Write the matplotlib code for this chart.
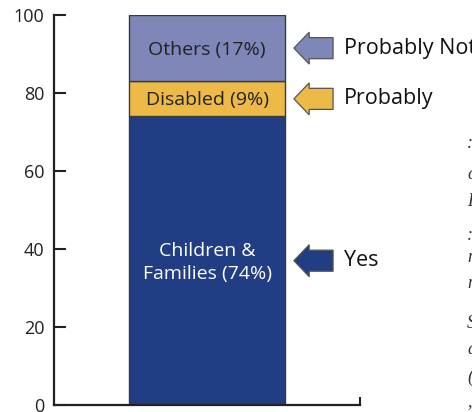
import matplotlib
matplotlib.use("Agg")
import matplotlib.pyplot as plt
from matplotlib.patches import FancyArrow

# Data
segments = ["Children &\nFamilies (74%)", "Disabled (9%)", "Others (17%)"]
values = [74, 9, 17]
answers = ["Yes", "Probably", "Probably Not"]
colors = ["#213E85", "#EDB947", "#7F86B8"]
text_colors = ["white", "#222222", "#222222"]
yticks = [0, 20, 40, 60, 80, 100]
side_fragments = [":", "c", "F", ":", "n", "n", "S", "a", "(", ","]
side_frag_y = [143, 175, 202, 235, 258, 283, 323, 350, 377, 402]

plt.rcParams['font.family'] = ['Open Sans', 'DejaVu Sans']

W, H = 472, 412
fig = plt.figure(figsize=(W / 100, H / 100), dpi=100)
ax = fig.add_axes([54 / W, (H - 405) / H, (360 - 54) / W, (405 - 15) / H])

ax.set_xlim(0, 1)
ax.set_ylim(0, 100)

bottom = 0
bar_x, bar_w = 0.5, 0.51
tip_x, tail_x = 0.784, 0.912
for seg, v, c, tc, ans in zip(segments, values, colors, text_colors, answers):
    ax.bar(bar_x, v, width=bar_w, bottom=bottom, color=c,
           edgecolor="#3a3a3a", linewidth=1.0, zorder=2)
    mid = bottom + v / 2
    ax.text(bar_x, mid - 0.4, seg, ha="center", va="center", color=tc,
            fontsize=14, linespacing=1.35, zorder=3)
    arr = FancyArrow(tail_x, mid, tip_x - tail_x, 0, width=5.4,
                     head_width=8.2, head_length=0.05,
                     length_includes_head=True, facecolor=c,
                     edgecolor="#555555", linewidth=0.9, clip_on=False,
                     zorder=3)
    ax.add_patch(arr)
    ax.text(0.948, mid, ans, ha="left", va="center", color="#111111",
            fontsize=15.5, clip_on=False)
    bottom += v

ax.set_yticks(yticks)
ax.set_xticks([1])
ax.set_xticklabels([""])
for s in ["top", "right"]:
    ax.spines[s].set_visible(False)
for s in ["left", "bottom"]:
    ax.spines[s].set_linewidth(1.6)
    ax.spines[s].set_color("#222222")
ax.tick_params(axis="y", direction="in", length=8.5, width=1.5,
               colors="#222222", labelsize=13, pad=7)
ax.tick_params(axis="x", direction="in", length=6, width=1.5,
               colors="#222222")
for lbl in ax.get_yticklabels():
    lbl.set_color("#222222")

for ch, yp in zip(side_fragments, side_frag_y):
    fig.text(467 / W, 1 - yp / H, ch, ha="left", va="center",
             fontsize=13, style="italic", family="Liberation Serif",
             color="#333333")

fig.savefig("out.png", dpi=100)
